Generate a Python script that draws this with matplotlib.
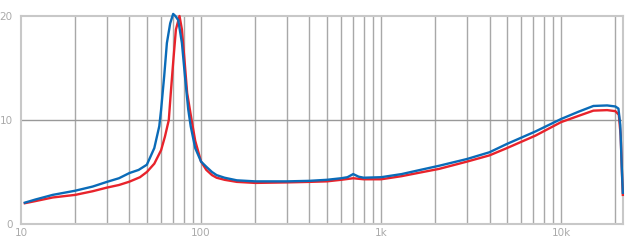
import matplotlib
matplotlib.use("Agg")
import matplotlib.pyplot as plt
from matplotlib.ticker import FixedLocator, NullFormatter

# Data
freq_blue = [10.5, 12, 15, 20, 25, 30, 35, 40, 45, 50, 55, 58.6, 60, 62.4, 64.6, 67.4, 70,
             72, 74.7, 78.3, 81.4, 84.9, 87.6, 92.8, 100, 107, 115, 122, 135, 158, 200, 300,
             400, 500, 600, 650, 700, 750, 800, 1000, 1300, 1650, 2100, 3000, 4000, 5000,
             7200, 10000, 12500, 15100, 18000, 20000, 20800, 21300, 21700, 22000]
val_blue = [2.05, 2.35, 2.8, 3.2, 3.6, 4.05, 4.4, 4.9, 5.2, 5.7, 7.3, 9.4, 11.0, 14.2, 17.4,
            19.3, 20.2, 20.0, 19.6, 17.4, 14.2, 11.0, 9.4, 7.3, 6.0, 5.5, 5.0, 4.7, 4.45, 4.2,
            4.1, 4.1, 4.15, 4.25, 4.4, 4.5, 4.8, 4.55, 4.45, 4.5, 4.8, 5.2, 5.6, 6.25, 6.9,
            7.7, 8.9, 10.1, 10.8, 11.35, 11.4, 11.3, 11.1, 9.5, 5.5, 3.0]

freq_red = [10.5, 12, 15, 20, 25, 30, 35, 40, 45.8, 50, 55, 60, 63, 66.2, 67.9, 70.2, 72.5,
            75.9, 78.3, 80.9, 83.7, 88.6, 92.8, 100, 107, 115, 122, 135, 158, 200, 300, 400,
            500, 600, 700, 800, 1000, 1300, 1650, 2100, 3000, 4000, 5000, 7200, 10000, 12500,
            15100, 18000, 20000, 20900, 21400, 21800, 22000]
val_red = [2.0, 2.2, 2.55, 2.8, 3.15, 3.5, 3.75, 4.07, 4.5, 5.0, 5.8, 7.1, 8.4, 10.0, 12.6,
           15.8, 18.7, 20.0, 18.7, 15.8, 12.6, 10.0, 8.0, 6.0, 5.2, 4.7, 4.45, 4.25, 4.05,
           3.95, 4.0, 4.05, 4.1, 4.25, 4.4, 4.3, 4.3, 4.6, 4.95, 5.3, 6.0, 6.6, 7.3, 8.5, 9.8,
           10.4, 10.9, 10.95, 10.85, 10.5, 8.5, 4.5, 2.8]

x_ticks = [10, 100, 1000, 10000]
x_labels = ["10", "100", "1k", "10k"]
y_ticks = [0, 10, 20]
y_labels = ["0", "10", "20"]

fig = plt.figure(figsize=(6.4, 2.46), dpi=100)
ax = fig.add_axes([21/640, 1-224/246, (623-21)/640, (224-16)/246])

grid_color = "#a8a8a8"
minor = []
for dec in [10, 100, 1000, 10000]:
    for m in range(1, 10):
        f = dec * m
        if 10 < f < 22050:
            minor.append(f)
for f in minor:
    ax.axvline(f, color=grid_color, lw=1.0, zorder=1)
ax.axhline(10, color="#999999", lw=1.0, zorder=1)

ax.plot(freq_red, val_red, color="#e8232b", lw=1.7, zorder=3, clip_on=False)
ax.plot(freq_blue, val_blue, color="#0a6bb8", lw=1.7, zorder=4, clip_on=False)

ax.set_xscale("log")
ax.set_xlim(10, 22050)
ax.set_ylim(0, 20)
ax.xaxis.set_major_locator(FixedLocator(x_ticks))
ax.xaxis.set_minor_locator(FixedLocator([]))
ax.xaxis.set_minor_formatter(NullFormatter())
ax.set_xticks(x_ticks)
ax.set_xticklabels(x_labels)
ax.set_yticks(y_ticks)
ax.set_yticklabels(y_labels)
ax.tick_params(length=0, labelsize=7.5, colors="#aaaaaa", pad=3)
ax.tick_params(axis="y", pad=6)
for s in ax.spines.values():
    s.set_color("#c8c8c8")
    s.set_linewidth(1.5)
    s.set_zorder(2)

fig.savefig("out.png", dpi=100)
